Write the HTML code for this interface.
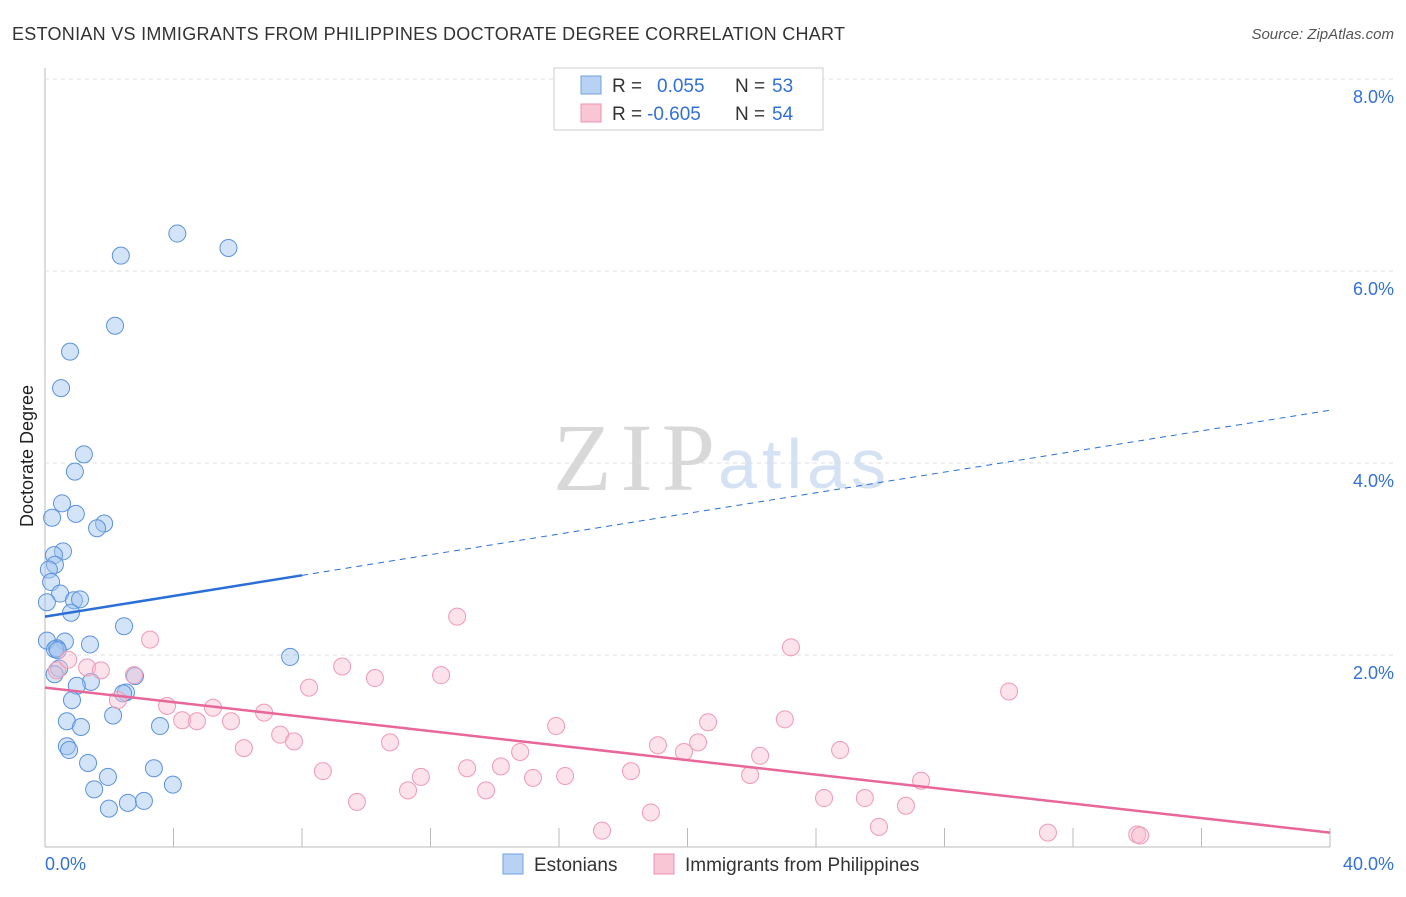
<!DOCTYPE html>
<html><head><meta charset="utf-8"><style>
body{margin:0;background:#fff;font-family:"Liberation Sans",sans-serif}
svg text{font-family:"Liberation Sans",sans-serif}
</style></head><body>
<svg id="c" width="1406" height="892">
<text x="12" y="40" font-size="18" fill="#333" textLength="833">ESTONIAN VS IMMIGRANTS FROM PHILIPPINES DOCTORATE DEGREE CORRELATION CHART</text>
<text x="1394" y="39" font-size="15" fill="#555" font-style="italic" text-anchor="end">Source: ZipAtlas.com</text>
<text x="33" y="456" font-size="18" fill="#222" text-anchor="middle" transform="rotate(-90 33 456)">Doctorate Degree</text>
<text x="553" y="490" font-size="96" fill="#d8d8d8" style="font-family:'Liberation Serif',serif" textLength="162">ZIP</text>
<text x="718" y="488" font-size="70" fill="#d4e2f4" textLength="168">atlas</text>
<g id="grid"></g><g id="pts"></g><g id="lines"></g>
<g>
<rect x="554" y="68" width="269" height="62" fill="#fff" stroke="#ccc"/>
<rect x="581" y="76" width="20" height="18" fill="#b7d2f3" stroke="#6fa1df"/>
<text x="612" y="92" font-size="19" fill="#333">R =</text><text x="657" y="92" font-size="19" fill="#3371d6">0.055</text>
<text x="735" y="92" font-size="19" fill="#333">N =</text><text x="772" y="92" font-size="19" fill="#3371d6">53</text>
<rect x="581" y="104" width="20" height="18" fill="#f8c6d4" stroke="#ee93ae"/>
<text x="612" y="120" font-size="19" fill="#333">R =</text><text x="647" y="120" font-size="19" fill="#3371d6">-0.605</text>
<text x="735" y="120" font-size="19" fill="#333">N =</text><text x="772" y="120" font-size="19" fill="#3371d6">54</text>
</g>
<g>
<rect x="503" y="854" width="20" height="20" fill="#b7d2f3" stroke="#6fa1df"/>
<text x="534" y="871" font-size="19" fill="#333">Estonians</text>
<rect x="654" y="854" width="20" height="20" fill="#f8c6d4" stroke="#ee93ae"/>
<text x="685" y="871" font-size="19" fill="#333">Immigrants from Philippines</text>
</g>
<text x="45" y="870" font-size="18" fill="#3371d6">0.0%</text>
<text x="1394" y="870" font-size="18" fill="#3371d6" text-anchor="end">40.0%</text>
</svg>
<script>
const yTicks=[2,4,6,8];
const bluePts=[[4.12,6.39],[5.71,6.24],[2.36,6.16],[2.18,5.43],[0.78,5.16],[0.5,4.78],[1.21,4.09],[0.93,3.91],[0.53,3.58],[0.96,3.47],[0.22,3.43],[1.84,3.37],[1.62,3.32],[0.56,3.08],[0.28,3.04],[0.31,2.94],[0.12,2.89],[0.19,2.76],[0.47,2.64],[0.06,2.55],[0.9,2.57],[1.09,2.58],[0.81,2.44],[2.46,2.3],[7.63,1.98],[0.06,2.15],[0.62,2.14],[1.4,2.11],[0.37,2.07],[0.31,2.06],[0.44,1.86],[1.43,1.72],[0.99,1.68],[2.8,1.78],[2.52,1.61],[2.43,1.6],[0.84,1.53],[2.12,1.37],[0.68,1.31],[1.12,1.25],[3.58,1.26],[0.68,1.05],[0.75,1.01],[1.34,0.875],[1.96,0.73],[3.39,0.82],[1.53,0.6],[3.98,0.65],[2.58,0.46],[3.08,0.48],[1.99,0.4],[0.3,1.8],[0.4,2.05]];
const pinkPts=[[12.83,2.4],[3.27,2.16],[23.22,2.08],[0.37,1.84],[0.72,1.95],[1.31,1.87],[1.74,1.84],[2.77,1.79],[9.25,1.88],[10.27,1.76],[12.33,1.79],[8.22,1.66],[30.01,1.62],[3.8,1.47],[5.23,1.45],[4.27,1.32],[4.73,1.31],[5.79,1.31],[6.82,1.4],[2.27,1.53],[7.32,1.17],[7.75,1.1],[6.19,1.03],[20.64,1.3],[23.03,1.33],[15.91,1.26],[10.74,1.09],[14.79,0.99],[19.08,1.06],[20.33,1.09],[19.89,0.99],[24.75,1.01],[22.26,0.95],[8.65,0.79],[13.14,0.82],[14.19,0.84],[11.7,0.73],[15.19,0.72],[16.19,0.74],[18.24,0.79],[21.95,0.75],[27.27,0.69],[11.3,0.59],[13.73,0.59],[9.71,0.47],[24.25,0.51],[25.52,0.51],[26.8,0.43],[18.86,0.36],[25.96,0.21],[17.34,0.17],[31.22,0.15],[34.0,0.13],[34.09,0.12]];
const blueTrend=[0,2.4,8,2.83,40,4.55];
const pinkTrend=[0,1.66,40,0.15];
const X=v=>45+v*32.125, Y=v=>847-v*96;
const NS='http://www.w3.org/2000/svg';
function mk(t,a,p){const e=document.createElementNS(NS,t);for(const k in a)e.setAttribute(k,a[k]);p.appendChild(e);return e;}
const g=document.getElementById('grid');
mk('line',{x1:45,y1:68,x2:45,y2:847,stroke:'#bbb'},g);
mk('line',{x1:45,y1:847,x2:1330,y2:847,stroke:'#bbb'},g);
for(let i=0;i<=10;i++){const l=mk('line',{x1:X(i*4),y1:828,x2:X(i*4),y2:847,stroke:'#bbb'},g);

}
yTicks.forEach(t=>{const l=mk('line',{x1:45,y1:Y(t),x2:1395,y2:Y(t),stroke:'#ddd','stroke-dasharray':'4 4'},g);


const tx=mk('text',{x:1394,y:Y(t)+24,'font-size':18,fill:'#3371d6','text-anchor':'end'},g);tx.textContent=t.toFixed(1)+'%';

});
const p=document.getElementById('pts');
bluePts.forEach(d=>{const c=mk('circle',{cx:X(d[0]),cy:Y(d[1]),r:8.5,fill:'rgba(160,195,240,0.45)',stroke:'#5b93dc','stroke-width':1},p);

});
pinkPts.forEach(d=>{const c=mk('circle',{cx:X(d[0]),cy:Y(d[1]),r:8.5,fill:'rgba(248,190,208,0.45)',stroke:'#ef9ab4','stroke-width':1},p);

});
const L=document.getElementById('lines');
let b=mk('line',{x1:X(blueTrend[0]),y1:Y(blueTrend[1]),x2:X(blueTrend[2]),y2:Y(blueTrend[3]),stroke:'#2a6fd6','stroke-width':2.5},L);


b=mk('line',{x1:X(blueTrend[2]),y1:Y(blueTrend[3]),x2:X(blueTrend[4]),y2:Y(blueTrend[5]),stroke:'#2a6fd6','stroke-width':1,'stroke-dasharray':'6 5'},L);


b=mk('line',{x1:X(pinkTrend[0]),y1:Y(pinkTrend[1]),x2:X(pinkTrend[2]),y2:Y(pinkTrend[3]),stroke:'#e8669a','stroke-width':2.5},L);


</script>
</body></html>
